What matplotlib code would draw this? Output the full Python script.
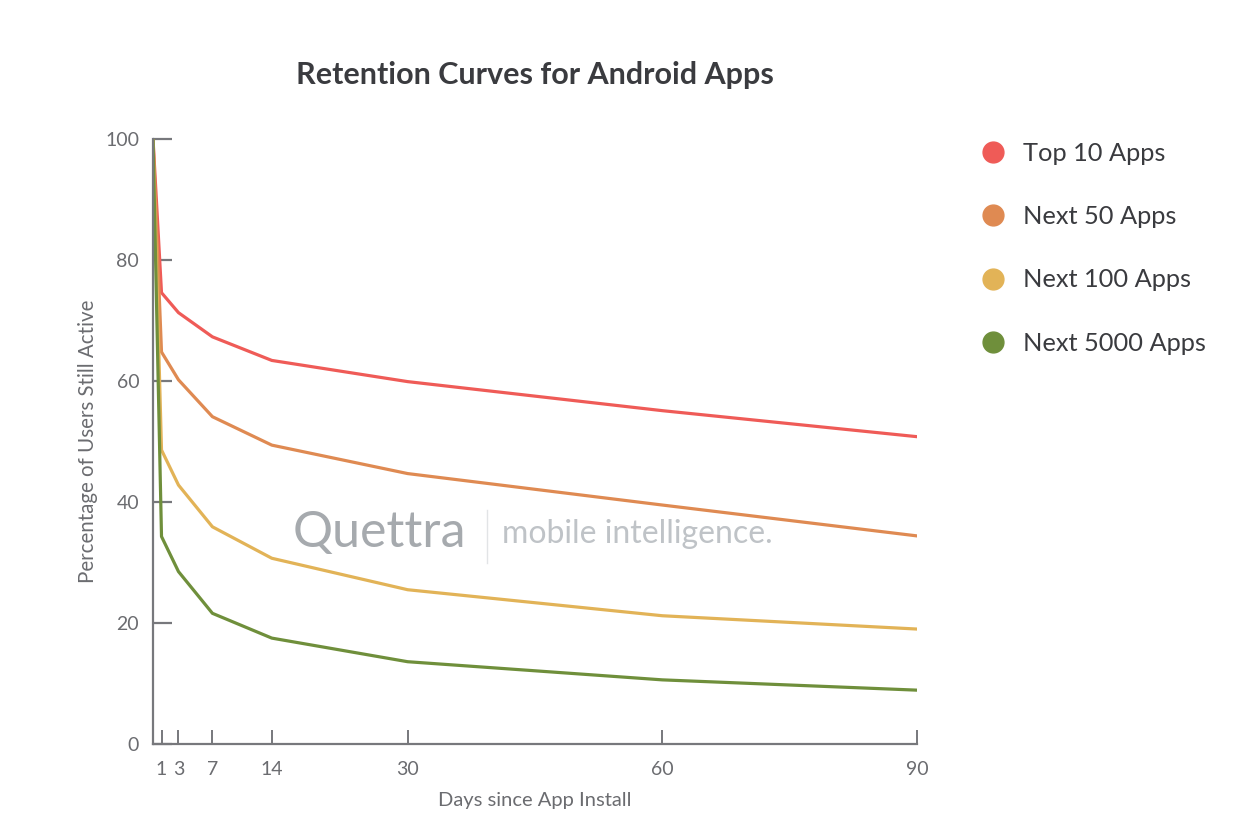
import matplotlib.pyplot as plt
from matplotlib.lines import Line2D

plt.rcParams['font.family'] = ['Lato', 'DejaVu Sans']

days = [0, 1, 3, 7, 14, 30, 60, 90]
top10 = [100, 74.6, 71.3, 67.3, 63.4, 59.9, 55.1, 50.8]
next50 = [100, 64.8, 60.2, 54.1, 49.4, 44.7, 39.5, 34.4]
next100 = [100, 48.6, 42.8, 35.9, 30.7, 25.5, 21.2, 19.0]
next5000 = [100, 34.3, 28.5, 21.6, 17.5, 13.6, 10.6, 8.9]

labels = ['Top 10 Apps', 'Next 50 Apps', 'Next 100 Apps', 'Next 5000 Apps']
colors = ['#ef5b57', '#df8a52', '#e2b357', '#6f8f3b']
xticks = [1, 3, 7, 14, 30, 60, 90]
yticks = [0, 20, 40, 60, 80, 100]

fig = plt.figure(figsize=(12.42, 8.4), dpi=100)
ax = fig.add_axes([0.1232, 0.1143, 0.615, 0.7202])

# watermark (behind the lines)
fig.text(0.236, 0.366, 'Quettra', fontsize=36, color='#a6aaae',
         va='center', ha='left', zorder=0)
fig.add_artist(Line2D([0.392, 0.392], [0.33, 0.393], color='#e2e4e6', lw=1))
fig.text(0.404, 0.364, 'mobile intelligence.', fontsize=23, color='#bfc3c7',
         va='center', ha='left', zorder=0)

for series, c in zip([top10, next50, next100, next5000], colors):
    ax.plot(days, series, color=c, lw=2.3, solid_joinstyle='round')

ax.set_xlim(0, 90)
ax.set_ylim(0, 100)
ax.set_xticks(xticks)
ax.set_yticks(yticks)
ax.spines['top'].set_visible(False)
ax.spines['right'].set_visible(False)
for s in ['left', 'bottom']:
    ax.spines[s].set_color('#77787c')
    ax.spines[s].set_linewidth(1.6)
ax.tick_params(axis='y', direction='in', length=14, width=1.6, color='#77787c',
               labelsize=14, labelcolor='#6b6c70', pad=10)
ax.tick_params(axis='x', direction='in', length=10, width=1.4, color='#77787c',
               labelsize=14, labelcolor='#6b6c70', pad=12)
ax.patch.set_alpha(0)

ax.set_xlabel('Days since App Install', fontsize=14.5, color='#6b6c70', labelpad=10)
ax.set_ylabel('Percentage of Users Still Active', fontsize=14.8, color='#6b6c70', labelpad=5)

fig.text(0.4305, 0.911, 'Retention Curves for Android Apps', fontsize=22,
         fontweight='bold', color='#3a3b3f', ha='center', va='center')

handles = [Line2D([], [], marker='o', linestyle='none', markersize=15,
                  markerfacecolor=c, markeredgecolor=c) for c in colors]
fig.legend(handles, labels, loc='upper left', bbox_to_anchor=(0.761, 0.858),
           frameon=False, fontsize=18.3, labelspacing=1.58, handletextpad=0.15,
           labelcolor='#3a3b3f')

fig.savefig('out.png', dpi=100)
